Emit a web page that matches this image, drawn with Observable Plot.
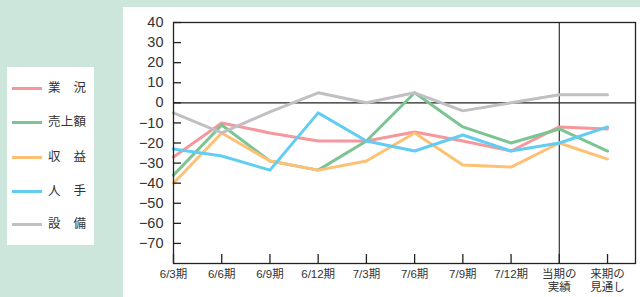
<!DOCTYPE html>
<html><head><meta charset="utf-8">
<script src="https://cdn.jsdelivr.net/npm/d3@7"></script>
<script src="https://cdn.jsdelivr.net/npm/@observablehq/plot@0.6"></script>
<style>
html,body{margin:0;padding:0;background:#cde6dc;}
#wrap{position:relative;width:640px;height:297px;overflow:hidden;background:#cde6dc;font-family:"Liberation Sans","Noto Sans CJK JP",sans-serif;}
#panel{position:absolute;left:123px;top:7px;width:517px;height:290px;background:#fff;}
#legend{position:absolute;left:7px;top:67px;width:87px;height:178px;background:#fff;}
.item{position:absolute;left:0;width:87px;height:16px;}
.sw{position:absolute;left:5px;top:7px;width:30px;height:3px;}
.lab{position:absolute;left:41px;top:0;width:38px;font-size:12.5px;line-height:16px;color:#333;white-space:nowrap;text-align:justify;text-align-last:justify;}
</style></head>
<body>
<div id="wrap"><div id="panel"></div><div id="legend"></div></div>
<script>
const categories = ["6/3期","6/6期","6/9期","6/12期","7/3期","7/6期","7/9期","7/12期","当期の\n実績","来期の\n見通し"];
const seriesNames = ["業況","売上額","収益","人手","設備"];
const seriesColors = ["#f5979d","#7cc593","#fec174","#62cdf2","#c0bfc3"];
const gyokyo  = [-27,-10,-15,-19,-19,-14.5,-19,-24,-12,-13];
const uriage  = [-36,-11,-29,-33.5,-19,5,-12,-20,-13,-24];
const shueki  = [-40,-15,-29,-33.5,-29,-15,-31,-32,-20,-28];
const hitode  = [-23,-26.5,-33.5,-5,-19,-24,-16,-24,-20,-12];
const setsubi = [-5,-15,-4.5,5,0,5,-4,0,4,4];
const yTicks = [40,30,20,10,0,-10,-20,-30,-40,-50,-60,-70];
const actualLabel = "当期の\n実績";

const seriesValues = [gyokyo, uriage, shueki, hitode, setsubi];
const rows = [];
seriesValues.forEach((vals, s) => vals.forEach((v, i) => rows.push({series: seriesNames[s], i, v})));
const idx = categories.map((_, i) => i);

const chart = Plot.plot({
  width: 517, height: 290,
  marginLeft: 50, marginTop: 15, marginRight: 5, marginBottom: 34,
  style: {fontFamily: '"Liberation Sans","Noto Sans CJK JP",sans-serif', color: "#333", background: "transparent"},
  x: {type: "linear", domain: [0, categories.length - 1 + 0.58], axis: null, label: null},
  y: {domain: [-80, 40], axis: null, label: null},
  color: {domain: seriesNames, range: seriesColors},
  marks: [
    Plot.ruleY([0], {stroke: "#222", strokeWidth: 1.3}),
    Plot.ruleX([categories.indexOf(actualLabel)], {stroke: "#333", strokeWidth: 1.2}),
    Plot.line(rows, {x: "i", y: "v", z: "series", stroke: "series", strokeWidth: 3}),
    Plot.frame({stroke: "#222", strokeWidth: 1.3}),
    Plot.axisY(yTicks, {anchor: "left", tickSize: 8, insetLeft: 8, fill: "none", stroke: "#222", strokeWidth: 1.3, label: null}),
    Plot.axisY(yTicks, {anchor: "left", tickSize: 0, tickPadding: 10, fontSize: 14.5, fill: "#333", label: null}),
    Plot.axisX(idx, {anchor: "bottom", tickSize: 9, insetBottom: 9, fill: "none", stroke: "#222", strokeWidth: 1.3, label: null}),
    Plot.axisX(idx, {anchor: "bottom", tickSize: 0, tickPadding: 5, fontSize: 11.5, lineHeight: 1.15, fill: "#333", tickFormat: i => categories[i], label: null})
  ]
});
chart.style.position = "absolute";
chart.style.left = "123px";
chart.style.top = "7px";
document.getElementById("wrap").appendChild(chart);

const legend = document.getElementById("legend");
const tops = [13, 47, 82, 116, 149];
seriesNames.forEach((n, k) => {
  const it = document.createElement("div");
  it.className = "item";
  it.style.top = tops[k] + "px";
  it.innerHTML = `<div class="sw" style="background:${seriesColors[k]}"></div><div class="lab">${n}</div>`;
  legend.appendChild(it);
});
</script>
</body></html>
